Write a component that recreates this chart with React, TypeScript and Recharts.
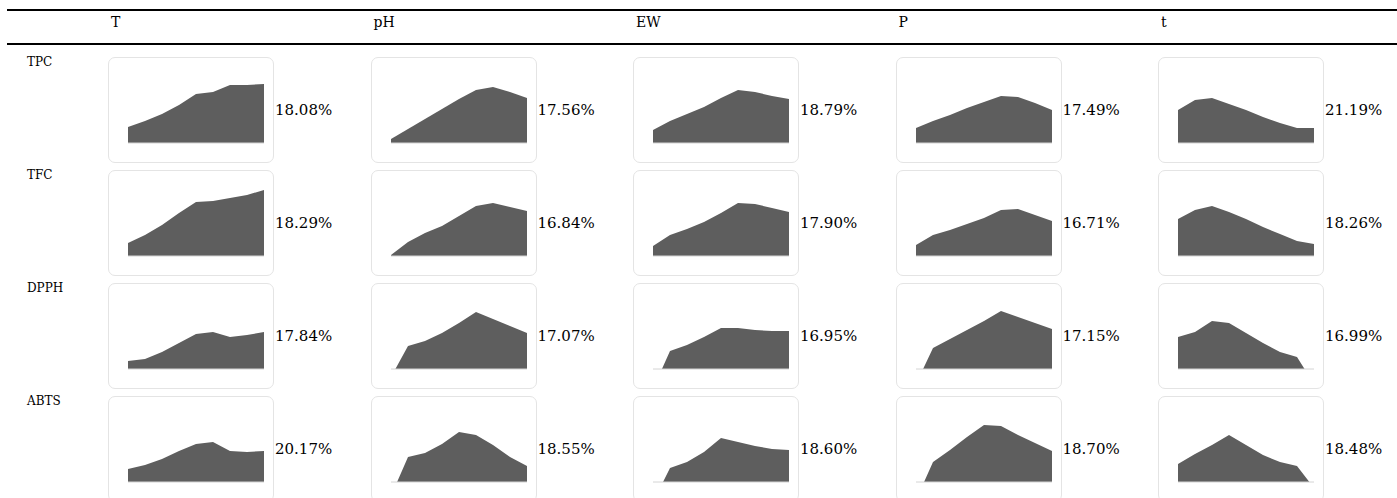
import { AreaChart, Area, XAxis, YAxis, ReferenceLine } from 'recharts'

const factors = ['T', 'pH', 'EW', 'P', 't']
const responses = ['TPC', 'TFC', 'DPPH', 'ABTS']
const levels = ['1', '2', '3', '4', '5', '6', '7', '8', '9']

// response height at each level, one list per factor (T, pH, EW, P, t)
const tpcSeries = [
  [16, 22, 29, 38, 49, 51, 58, 58, 59],
  [4, 14, 24, 34, 44, 53, 56, 51, 45],
  [13, 22, 29, 36, 45, 53, 51, 47, 44],
  [15, 22, 28, 35, 41, 47, 46, 40, 33],
  [33, 43, 45, 39, 33, 26, 20, 15, 15],
]
const tfcSeries = [
  [13, 21, 31, 43, 54, 55, 58, 61, 66],
  [1, 14, 23, 30, 40, 50, 53, 49, 45],
  [10, 21, 27, 34, 43, 53, 52, 48, 44],
  [11, 21, 26, 32, 38, 46, 47, 41, 35],
  [37, 46, 50, 44, 37, 29, 22, 15, 12],
]
const dpphSeries = [
  [8, 10, 17, 26, 35, 37, 32, 34, 37],
  [-8, 23, 28, 36, 46, 57, 50, 43, 36],
  [-20, 18, 24, 32, 41, 41, 39, 38, 38],
  [-15, 21, 30, 39, 48, 58, 52, 46, 40],
  [32, 37, 48, 46, 36, 26, 17, 12, -15],
]
const abtsSeries = [
  [13, 17, 23, 31, 38, 40, 31, 30, 31],
  [-14, 25, 29, 38, 50, 47, 37, 25, 16],
  [-20, 14, 20, 30, 44, 40, 36, 33, 32],
  [-18, 20, 32, 45, 57, 56, 47, 39, 31],
  [18, 28, 37, 47, 37, 27, 20, 16, -6],
]

const tpcShares = ['18.08%', '17.56%', '18.79%', '17.49%', '21.19%']
const tfcShares = ['18.29%', '16.84%', '17.90%', '16.71%', '18.26%']
const dpphShares = ['17.84%', '17.07%', '16.95%', '17.15%', '16.99%']
const abtsShares = ['20.17%', '18.55%', '18.60%', '18.70%', '18.48%']

const seriesByRow = [tpcSeries, tfcSeries, dpphSeries, abtsSeries]
const sharesByRow = [tpcShares, tfcShares, dpphShares, abtsShares]

const serif = '"DejaVu Serif", serif'

function Spark({ values }: { values: number[] }) {
  const data = levels.map((level, i) => ({ level, v: values[i] }))
  return (
    <AreaChart
      width={164}
      height={104}
      data={data}
      margin={{ top: 15, right: 9, bottom: 19, left: 19 }}
    >
      <XAxis dataKey="level" hide />
      <YAxis domain={[0, 70]} hide allowDataOverflow />
      <Area
        type="linear"
        dataKey="v"
        stroke="none"
        fill="#5e5e5e"
        fillOpacity={1}
        isAnimationActive={false}
      />
      <ReferenceLine y={0} stroke="#d4d4d4" />
    </AreaChart>
  )
}

export default function App() {
  return (
    <div
      style={{
        position: 'absolute',
        left: 0,
        top: 0,
        width: 1397,
        height: 498,
        background: '#fff',
        overflow: 'hidden',
        fontFamily: serif,
      }}
    >
      <div style={{ position: 'absolute', left: 7, right: 0, top: 9, height: 2, background: '#000' }} />
      <div style={{ position: 'absolute', left: 7, right: 0, top: 43, height: 2, background: '#000' }} />
      {factors.map((f, c) => (
        <div
          key={f}
          style={{ position: 'absolute', left: 111 + c * 262.5, top: 14, fontSize: 14, lineHeight: '16px' }}
        >
          {f}
        </div>
      ))}
      {responses.map((r, row) => (
        <div key={r}>
          <div style={{ position: 'absolute', left: 27, top: 54 + row * 113, fontSize: 12, lineHeight: '16px' }}>
            {r}
          </div>
          {seriesByRow[row].map((values, c) => {
            const left = 108 + c * 262.5
            const top = 57 + row * 113
            return (
              <div key={c}>
                <div
                  style={{
                    position: 'absolute',
                    left,
                    top,
                    width: 164,
                    height: 104,
                    border: '1px solid #e4e4e4',
                    borderRadius: 7,
                  }}
                >
                  <Spark values={values} />
                </div>
                <div
                  style={{
                    position: 'absolute',
                    left: left + 167,
                    top: top + 43,
                    fontSize: 15,
                    lineHeight: '20px',
                  }}
                >
                  {sharesByRow[row][c]}
                </div>
              </div>
            )
          })}
        </div>
      ))}
    </div>
  )
}
